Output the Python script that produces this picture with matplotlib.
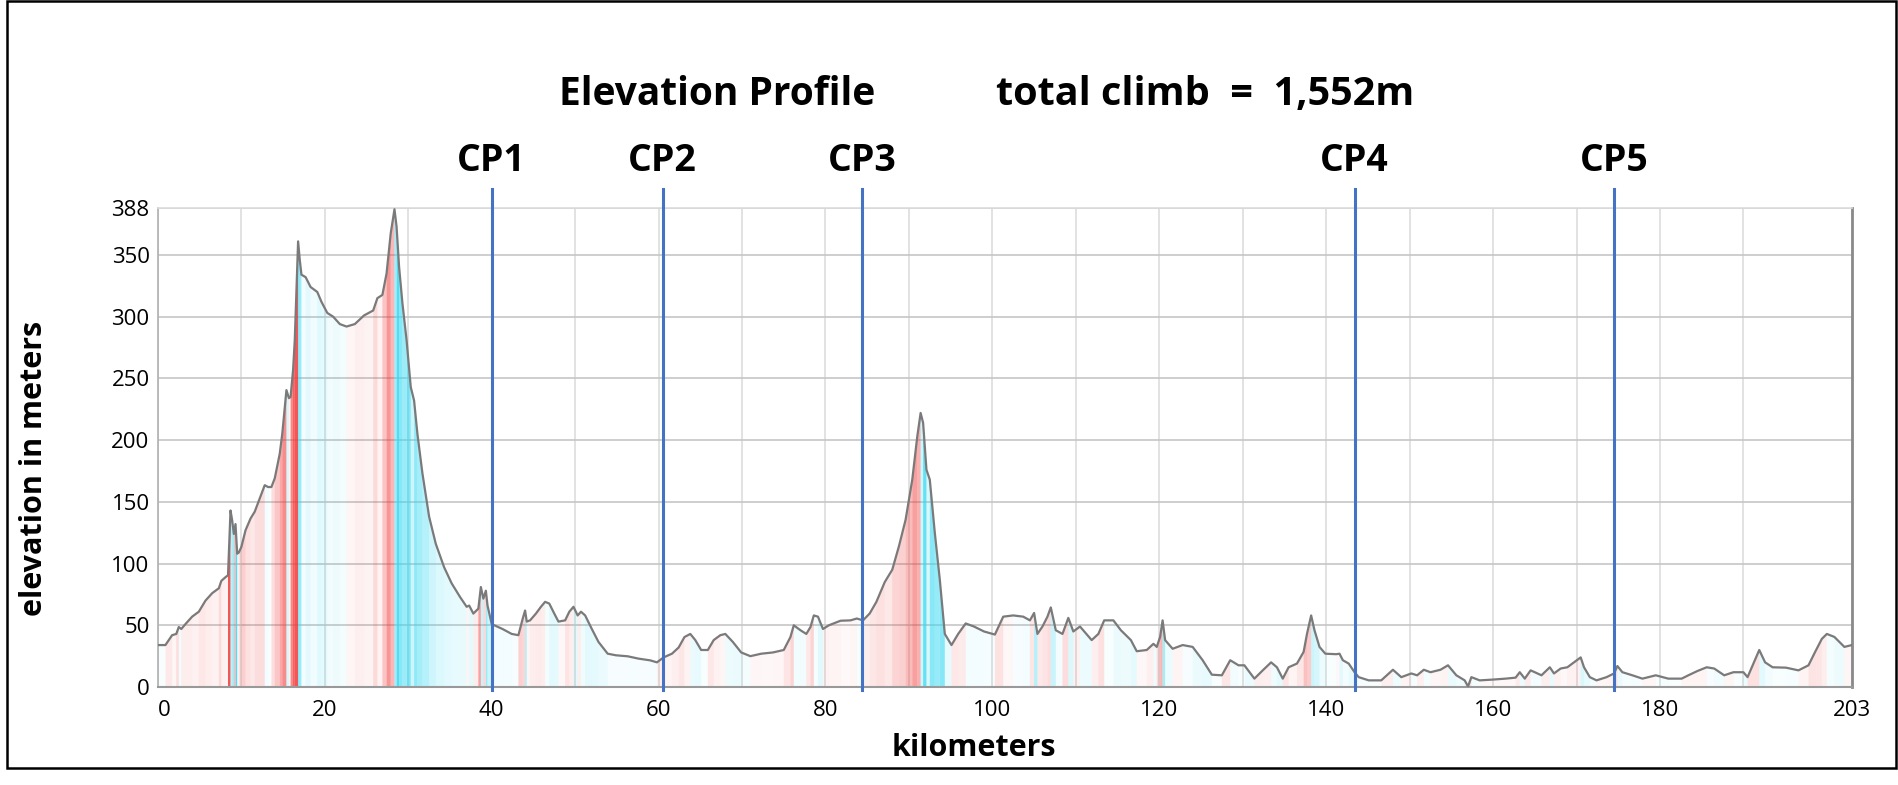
import matplotlib
matplotlib.use("Agg")
import matplotlib.pyplot as plt
from matplotlib.patches import Rectangle
from matplotlib.collections import PolyCollection
import matplotlib.transforms as mtransforms
import numpy as np

plt.rcParams['font.family'] = ['Open Sans', 'DejaVu Sans']

# distance (km) and elevation (m)
km = [0.0, 0.9, 1.7, 2.2, 2.5, 2.8, 3.3, 4.1, 4.9, 5.7, 6.5, 7.3, 7.6, 8.1, 8.4,
      8.7, 8.9, 9.1, 9.3, 9.5, 9.7, 10.0, 10.5, 11.1, 11.6, 12.1, 12.8, 13.2, 13.6,
      14.0, 14.6, 14.9, 15.4, 15.7, 15.9, 16.2, 16.4, 16.8, 17.0, 17.2, 17.7, 18.3,
      19.1, 19.6, 20.3, 21.0, 21.8, 22.6, 23.6, 24.7, 25.8, 26.3, 26.9, 27.4, 27.9,
      28.35, 28.6, 28.9, 29.3, 29.8, 30.3, 30.7, 31.1, 31.7, 32.5, 33.3, 34.3, 35.2,
      36.2, 37.0, 37.3, 37.8, 38.4, 38.7, 39.0, 39.3, 39.5, 40.0, 41.3, 42.4, 43.2,
      43.7, 44.0, 44.2, 44.6, 45.3, 45.9, 46.4, 46.9, 47.5, 48.0, 48.8, 49.3, 49.8,
      50.3, 50.7, 51.2, 52.0, 52.8, 53.9, 54.9, 56.3, 57.6, 59.0, 59.8, 60.6, 61.6,
      62.4, 63.1, 63.8, 64.4, 65.1, 65.9, 66.6, 67.4, 68.0, 68.9, 69.9, 71.0, 72.3,
      73.7, 75.0, 75.8, 76.2, 77.0, 77.7, 78.2, 78.6, 79.1, 79.7, 80.4, 81.8, 83.0,
      83.75, 84.5, 85.3, 86.1, 87.1, 88.0, 88.8, 89.6, 90.4, 91.0, 91.4, 91.7, 92.1,
      92.5, 93.1, 93.7, 94.3, 95.1, 95.9, 96.8, 97.8, 99.0, 100.3, 101.3, 102.5,
      103.7, 104.5, 105.0, 105.4, 106.0, 106.6, 107.0, 107.6, 108.4, 109.1, 109.7,
      110.5, 111.9, 112.7, 113.4, 114.5, 115.4, 116.6, 117.3, 118.5, 119.3, 119.7,
      120.1, 120.4, 120.7, 121.6, 122.8, 124.0, 125.2, 126.3, 127.5, 128.5, 129.5,
      130.2, 131.4, 132.4, 133.4, 134.1, 134.8, 135.5, 136.5, 137.3, 137.7, 138.2,
      138.6, 139.2, 139.9, 141.2, 141.6, 142.0, 142.7, 143.4, 143.9, 145.1, 146.6,
      148.0, 149.0, 150.2, 150.9, 151.7, 152.5, 153.7, 154.6, 155.6, 156.6, 157.0,
      157.4, 158.4, 159.9, 161.5, 162.7, 163.2, 163.8, 164.5, 165.0, 165.8, 166.8,
      167.3, 168.1, 168.9, 169.7, 170.5, 170.9, 171.6, 172.4, 173.6, 174.5, 174.9,
      175.5, 176.7, 177.9, 179.5, 181.0, 182.6, 183.4, 184.5, 185.6, 186.5, 187.7,
      188.8, 190.0, 190.5, 191.2, 191.9, 192.6, 193.5, 195.1, 196.6, 197.8, 198.6,
      199.4, 200.0, 200.9, 202.1, 203.0]
elev = [34, 34, 42, 43, 48.6, 47, 51, 57, 61, 70, 76, 80, 86, 89, 90.5,
        143, 135, 124, 132, 108, 109, 113.5, 127, 136.5, 142, 151, 163.5, 162, 162,
        169, 189, 205, 240.5, 234, 235, 257, 281, 361, 346, 334, 332, 324,
        320, 312, 303, 300, 294, 292, 294, 301, 305, 315, 317.6, 335, 367.6,
        387, 373, 340.5, 311, 281, 243, 232, 205, 173, 138, 116, 97, 84,
        73, 65, 66, 59.5, 63.5, 81, 71.6, 78, 66, 51, 47, 43, 42,
        55, 62, 53, 54, 59.5, 65, 69, 67.6, 59.5, 53, 54, 61, 65,
        58, 61, 58, 47, 36.5, 27, 25.7, 24.9, 23, 21.6, 20, 24, 27,
        32, 40.5, 43, 38, 30, 30, 38, 42, 43, 36.5, 28, 25, 27,
        28, 30, 40.5, 50, 46, 43, 48.6, 58, 57, 47, 50, 53.7, 54,
        55.5, 54, 59.6, 69, 85, 95, 114, 135.5, 168, 203, 222, 214, 176,
        168, 125, 87, 43, 34, 43, 51.5, 49, 45, 42.5, 57, 58,
        57, 54, 60, 43, 49, 57, 64.5, 46, 43, 56, 45,
        49, 38, 43, 54, 54, 46, 38, 29, 30, 35, 32.5,
        40.6, 54, 38, 31, 34, 32.5, 21.7, 10, 9.5, 21.7, 17.6,
        17.6, 6.8, 13.5, 20, 16, 6.8, 16, 19, 28.5, 43, 58,
        46, 32.5, 27, 26.6, 27, 21.7, 19, 12, 8, 5.4, 5.4,
        14, 8, 11, 9.5, 14, 12, 14, 17.6, 9.5, 5.4, 0.5,
        8, 5.4, 6, 6.8, 7.6, 12, 6.8, 13.5, 12, 9.5, 16,
        11, 15, 16, 20, 24, 16, 8, 5.4, 8, 11, 17,
        12, 9.5, 6.8, 9.5, 6.8, 6.8, 9.5, 13, 16, 15, 9.5,
        12, 12, 8, 19, 30, 20, 16, 15.7, 13.5, 17.6, 28.5,
        39, 43, 40.6, 32.5, 34]

checkpoints = [40.0, 60.5, 84.4, 143.4, 174.5]
cp_labels = ["CP1", "CP2", "CP3", "CP4", "CP5"]
x_ticks = [0, 20, 40, 60, 80, 100, 120, 140, 160, 180, 203]
y_ticks = [0, 50, 100, 150, 200, 250, 300, 350, 388]
total_climb = "1,552m"

km = np.array(km)
elev = np.array(elev)

fig = plt.figure(figsize=(18.98, 7.85), dpi=100)
ax = fig.add_axes([0.0832, 0.1248, 0.8925, 0.6102])

# slope-coloured stripes under the profile (red = climb, cyan = descent)
verts, colors = [], []
for i in range(len(km) - 1):
    g = (elev[i + 1] - elev[i]) / (km[i + 1] - km[i])
    a = min(0.85, 0.03 + abs(g) / 130.0)
    base = (0.95, 0.22, 0.22) if g > 0 else (0.2, 0.85, 0.95)
    verts.append([(km[i], 0), (km[i], elev[i]), (km[i + 1], elev[i + 1]), (km[i + 1], 0)])
    colors.append((*base, a))
ax.add_collection(PolyCollection(verts, facecolors=colors, edgecolors='none', zorder=1))

ax.plot(km, elev, color='#7a7a7a', linewidth=1.6, zorder=3)

ax.set_xlim(0, 203)
ax.set_ylim(0, 388)
ax.set_xticks(x_ticks)
ax.set_xticks(np.arange(10, 201, 20), minor=True)
ax.set_yticks(y_ticks)
ax.tick_params(axis='both', which='both', length=0, labelsize=16)
ax.tick_params(axis='x', pad=9)
ax.tick_params(axis='y', pad=6)
ax.get_xticklabels()[0].set_horizontalalignment('left')

ax.grid(True, axis='x', which='both', color='#dddddd', linewidth=1.2, zorder=0)
ax.grid(True, axis='y', color='#c6c6c6', linewidth=1.2, zorder=0)
ax.set_axisbelow(True)

ax.spines['left'].set_color('#b0b0b0')
ax.spines['left'].set_linewidth(1.2)
ax.spines['bottom'].set_color('#999999')
ax.spines['bottom'].set_linewidth(1.5)
ax.spines['right'].set_color('#8a8a8a')
ax.spines['right'].set_linewidth(2)
ax.spines['top'].set_color('#dcdcdc')
ax.spines['top'].set_linewidth(1.2)

# checkpoints
trans = mtransforms.blended_transform_factory(ax.transData, ax.transAxes)
for cp, lab in zip(checkpoints, cp_labels):
    ax.plot([cp, cp], [-0.006, 1.04], transform=trans, color='#4472c4',
            linewidth=2.2, clip_on=False, zorder=4)
    ax.text(cp, 1.098, lab, transform=trans, ha='center', va='center',
            fontsize=27, fontweight='bold')

ax.set_xlabel("kilometers", fontsize=22, fontweight='bold')
ax.xaxis.set_label_coords(0.4817, -0.127)
ax.xaxis.label.set_va('center')
ax.set_ylabel("elevation in meters", fontsize=22, fontweight='bold')
ax.yaxis.set_label_coords(-0.073, 0.457)
ax.yaxis.label.set_va('center')

fig.text(0.378, 0.880, "Elevation Profile", ha='center', va='center',
         fontsize=28, fontweight='bold')
fig.text(0.635, 0.880, "total climb  =  " + total_climb, ha='center', va='center',
         fontsize=28.5, fontweight='bold')

fig.patches.append(Rectangle((0.0037, 0.0217), 0.9953, 0.9771, transform=fig.transFigure,
                             fill=False, edgecolor='black', linewidth=1.8))

fig.savefig("out.png", dpi=100)
